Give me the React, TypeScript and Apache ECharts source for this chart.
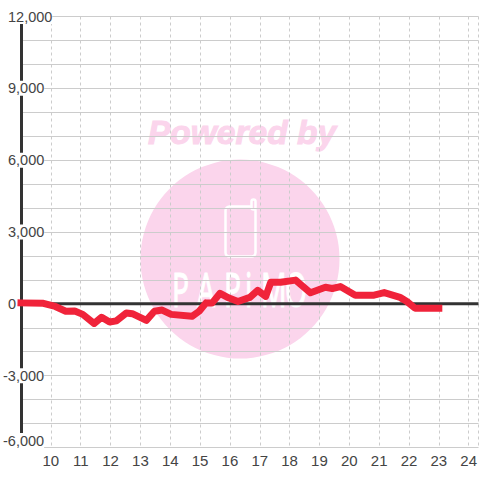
import React, { useEffect, useRef } from "react";
import * as echarts from "echarts";

const hours = [9, 9.75, 10.15, 10.5, 10.8, 11.07, 11.45, 11.7, 11.97, 12.2, 12.53, 12.73, 13.2, 13.47, 13.73, 14.03, 14.73, 14.97, 15.2, 15.4, 15.67, 15.97, 16.27, 16.67, 16.93, 17.2, 17.37, 17.7, 18.2, 18.7, 19.2, 19.43, 19.7, 20.2, 20.83, 21.17, 21.7, 21.93, 22.2, 23];
const values = [40, 20, -110, -310, -300, -440, -820, -560, -760, -710, -380, -410, -690, -310, -260, -440, -520, -310, 40, 30, 440, 240, 100, 270, 560, 310, 900, 900, 990, 460, 690, 640, 720, 360, 360, 470, 270, 100, -180, -180];
const yTicks = [12000, 9000, 6000, 3000, 0, -3000, -6000];
const xTicks = [10, 11, 12, 13, 14, 15, 16, 17, 18, 19, 20, 21, 22, 23, 24];
const zeroLineX = [9, 24.33];
const zeroLineY = [0, 0];
const watermarkTitle = "Powered by";
const watermarkLetters = ["P", "A", "P", "i", "M", "O"];
const letterLeft = [172, 197, 224, 245, 261, 285];

const fmt = (v: number) => {
  const s = Math.abs(v).toLocaleString("en-US");
  if (v === -6000) return `{b|-${s}}`;
  return v < 0 ? `{n|-${s}}` : `{p|${s}}`;
};

export default function App() {
  const ref = useRef<HTMLDivElement>(null);
  useEffect(() => {
    const chart = echarts.init(ref.current!, undefined, { renderer: "svg" });
    const labelBase = { fontFamily: "Liberation Sans", fontSize: 14.5, color: "#444" };
    chart.setOption({
      animation: false,
      backgroundColor: "#fff",
      grid: { left: 20.5, right: -0.5, top: 16.5, bottom: 32.5 },
      graphic: [
        { type: "circle", z: -10, silent: true, shape: { cx: 240, cy: 259, r: 99.5 }, style: { fill: "#fbd5ec" } },
        { type: "text", z: -10, silent: true, x: 148, y: 115, style: { text: watermarkTitle, fill: "#fbd5ec", stroke: "#fbd5ec", lineWidth: 1, font: "italic bold 33.5px 'Liberation Sans'" } },
        { type: "rect", z: -9, silent: true, shape: { x: 225.5, y: 206.5, width: 30, height: 50, r: 4 }, style: { fill: "#fbd5ec", stroke: "#fff", lineWidth: 2.5 } },
        { type: "rect", z: -9, silent: true, shape: { x: 251.5, y: 199.5, width: 4, height: 10, r: 2 }, style: { fill: "#fbd5ec", stroke: "#fff", lineWidth: 2.5 } },
        ...watermarkLetters.map((ch, i) => ({
          type: "text", z: -9, silent: true, x: letterLeft[i], y: 265, scaleX: 0.6,
          style: { text: ch, fill: "#fff", stroke: "#fff", lineWidth: 1, font: "47px 'Noto Sans'" },
        })),
      ],
      xAxis: {
        type: "value", min: 9, max: 24.33, interval: 1, position: "bottom",
        axisLine: { show: false, onZero: false }, axisTick: { show: false },
        axisLabel: { ...labelBase, fontSize: 15, margin: 5, customValues: xTicks },
        splitLine: { show: true, lineStyle: { color: "#ccc", type: [3, 3], width: 1 } },
      },
      yAxis: {
        type: "value", min: -6000, max: 12000, interval: 1000,
        axisLine: { show: true, lineStyle: { color: "#333", width: 3 } },
        axisTick: { show: false },
        axisLabel: {
          ...labelBase, align: "left", margin: 18,
          backgroundColor: "#fff",
          customValues: yTicks,
          formatter: fmt,
          rich: {
            p: { ...labelBase, padding: [0, 0, 0, 5] },
            n: { ...labelBase },
            b: { ...labelBase, padding: [0, 0, 14, 0] },
          },
        },
        splitLine: { show: true, lineStyle: { color: "#ccc", width: 1 } },
      },
      series: [
        {
          type: "line", showSymbol: false, silent: true, z: 1,
          data: zeroLineX.map((x, i) => [x, zeroLineY[i]]),
          lineStyle: { color: "#333", width: 3 },
        },
        {
          type: "line", showSymbol: false, silent: true, z: 2,
          data: hours.map((h, i) => [h, values[i]]),
          lineStyle: { color: "#f0233a", width: 7, cap: "square", join: "round" },
        },
      ],
    });
    return () => chart.dispose();
  }, []);
  return <div ref={ref} style={{ position: "fixed", left: 0, top: 0, width: 480, height: 480 }} />;
}
